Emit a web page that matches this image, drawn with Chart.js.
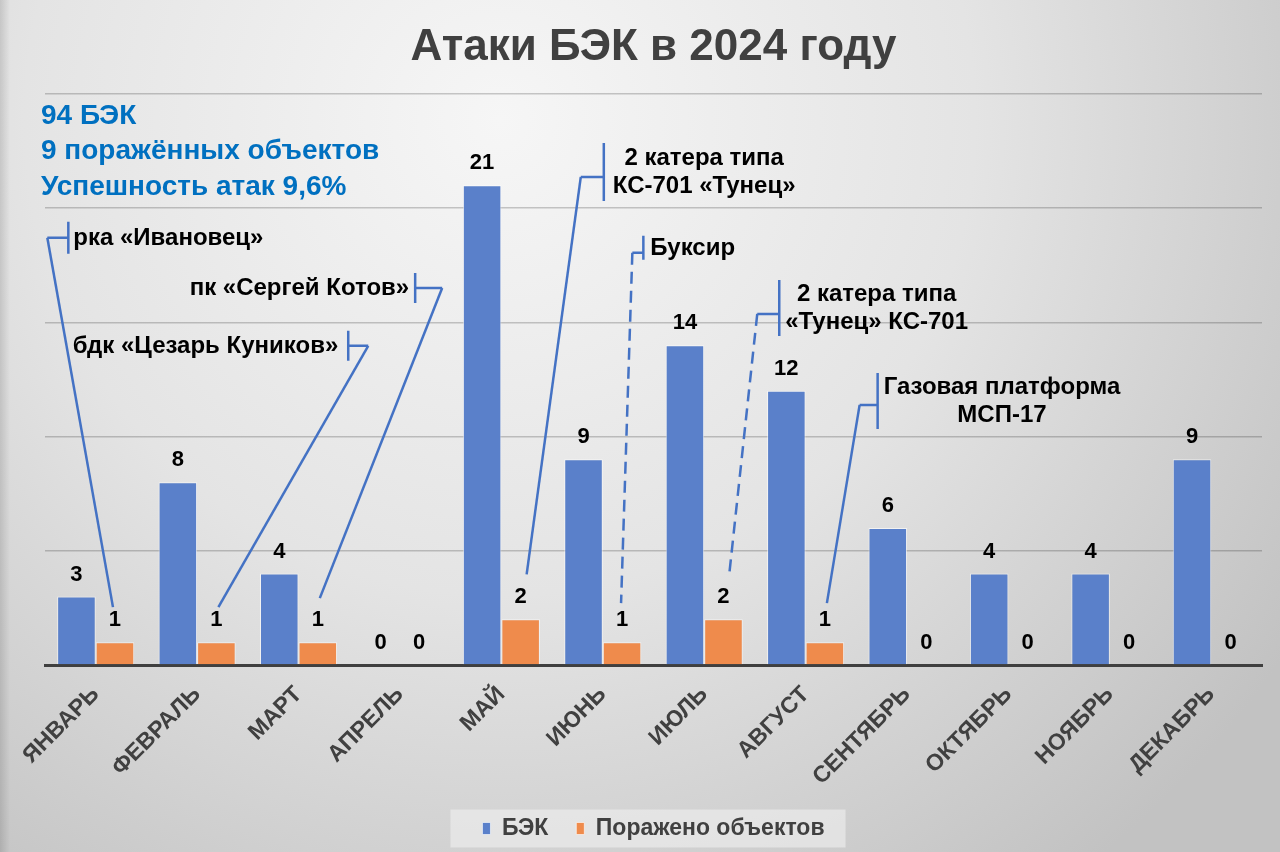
<!DOCTYPE html>
<html lang="ru">
<head>
<meta charset="utf-8">
<title>Атаки БЭК в 2024 году</title>
<script src="https://cdn.jsdelivr.net/npm/chart.js@4.4.0/dist/chart.umd.min.js"></script>
<style>
  html, body { margin: 0; padding: 0; background: #e6e6e6; }
  #wrap { width: 1280px; height: 852px; position: relative; }
</style>
</head>
<body>
<div id="wrap"><canvas id="chart" width="1280" height="852"></canvas></div>
<script>
// --- data ---
const months = ["ЯНВАРЬ", "ФЕВРАЛЬ", "МАРТ", "АПРЕЛЬ", "МАЙ", "ИЮНЬ",
  "ИЮЛЬ", "АВГУСТ", "СЕНТЯБРЬ", "ОКТЯБРЬ", "НОЯБРЬ", "ДЕКАБРЬ"];
const bekAttacks = [3, 8, 4, 0, 21, 9, 14, 12, 6, 4, 4, 9];
const targetsHit = [1, 1, 1, 0, 2, 1, 2, 1, 0, 0, 0, 0];
const seriesNames = ["БЭК", "Поражено объектов"];
const yMax = 25;
const yStep = 5;

// which month each note belongs to, and its text
const noteMonths = [0, 2, 1, 4, 5, 6, 7];
const noteTexts = [
  ["рка «Ивановец»"],
  ["пк «Сергей Котов»"],
  ["бдк «Цезарь Куников»"],
  ["2 катера типа", "КС-701 «Тунец»"],
  ["Буксир"],
  ["2 катера типа", "«Тунец» КС-701"],
  ["Газовая платформа", "МСП-17"],
];

// --- styling ---
const FONT = "'Liberation Sans', Arial, sans-serif";
const BLUE = "#5A80CA";
const ORANGE = "#EF8B4C";
const LEADER = "#4472C4";

// where each note sits: at = [category position, value] of the bracket centre
const noteLayout = [
  { at: [-0.27, 18.7], half: 16, tick: -21, tickDy: 0, side: "after", gap: 5, lift: 35, dx: -2 },
  { at: [3.15, 16.5], half: 15, tick: 27, tickDy: 0, side: "before", gap: 6, lift: 44, dx: 2 },
  { at: [2.49, 13.97], half: 15, tick: 20, tickDy: 0, side: "before", gap: 10, lift: 35, dx: 2 },
  { at: [5.01, 21.58], half: 29, tick: -23, tickDy: 5, side: "after", gap: 9, lift: 45, dx: 6 },
  { at: [5.40, 18.26], half: 12, tick: -11, tickDy: 5, side: "after", gap: 7, lift: 39, dx: -1, dash: [12, 7] },
  { at: [6.74, 15.63], half: 28, tick: -22, tickDy: 6, side: "after", gap: 6, lift: 47, dx: 6, dash: [12, 7] },
  { at: [7.71, 11.56], half: 28, tick: -18, tickDy: 4, side: "after", gap: 6, lift: 39, dx: 2 },
];

const sum = (a) => a.reduce((s, v) => s + v, 0);
const totalBek = sum(bekAttacks);
const totalHit = sum(targetsHit);
const summaryLines = [
  totalBek + " БЭК",
  totalHit + " поражённых объектов",
  "Успешность атак " + (totalHit / totalBek * 100).toFixed(1).replace(".", ",") + "%",
];

const backgroundPlugin = {
  id: "background",
  beforeDraw(chart) {
    const { ctx, width, height } = chart;
    ctx.save();
    const g = ctx.createRadialGradient(500, 120, 0, 500, 120, 950);
    g.addColorStop(0, "#f6f6f6");
    g.addColorStop(0.5, "#e4e4e4");
    g.addColorStop(1, "#c2c2c2");
    ctx.fillStyle = g;
    ctx.fillRect(0, 0, width, height);
    const edge = ctx.createLinearGradient(0, 0, 10, 0);
    edge.addColorStop(0, "rgba(0,0,0,0.12)");
    edge.addColorStop(1, "rgba(0,0,0,0)");
    ctx.fillStyle = edge;
    ctx.fillRect(0, 0, 10, height);

    // light box behind the legend
    const boxes = chart.legend && chart.legend.legendHitBoxes;
    if (boxes && boxes.length) {
      const first = boxes[0];
      const last = boxes[boxes.length - 1];
      const left = first.left - 32;
      const right = last.left + last.width + 21;
      const cy = first.top + first.height / 2;
      ctx.fillStyle = "rgba(240,240,240,0.6)";
      ctx.fillRect(left, cy - 19, right - left, 38);
    }
    ctx.restore();
  },
};

const valueLabelsPlugin = {
  id: "valueLabels",
  afterDatasetsDraw(chart) {
    const { ctx } = chart;
    ctx.save();
    ctx.font = "bold 22px " + FONT;
    ctx.fillStyle = "#000";
    ctx.textAlign = "center";
    ctx.textBaseline = "middle";
    chart.data.datasets.forEach((ds, di) => {
      chart.getDatasetMeta(di).data.forEach((bar, i) => {
        ctx.fillText(String(ds.data[i]), bar.x, bar.y - 22);
      });
    });
    ctx.restore();
  },
};

const notesPlugin = {
  id: "notes",
  afterDraw(chart) {
    const { ctx, chartArea } = chart;
    const xs = chart.scales.x;
    const ys = chart.scales.y;
    const hitMeta = chart.getDatasetMeta(1);
    ctx.save();

    // summary block top left
    ctx.font = "bold 28px " + FONT;
    ctx.fillStyle = "#0070C0";
    ctx.textAlign = "left";
    ctx.textBaseline = "middle";
    summaryLines.forEach((t, i) => {
      ctx.fillText(t, chartArea.left - 4, chartArea.top + 22 + i * 35.5);
    });

    ctx.font = "bold 24px " + FONT;
    ctx.lineWidth = 2.5;
    ctx.strokeStyle = LEADER;
    noteTexts.forEach((lines, n) => {
      const L = noteLayout[n];
      const bar = hitMeta.data[noteMonths[n]];
      const vx = xs.getPixelForValue(L.at[0]);
      const cy = ys.getPixelForValue(L.at[1]);
      const ty = cy + L.tickDy;

      // bracket
      ctx.setLineDash([]);
      ctx.beginPath();
      ctx.moveTo(vx, cy - L.half);
      ctx.lineTo(vx, cy + L.half);
      ctx.moveTo(vx, ty);
      ctx.lineTo(vx + L.tick, ty);
      ctx.stroke();

      // leader down to the bar
      ctx.setLineDash(L.dash || []);
      ctx.beginPath();
      ctx.moveTo(vx + L.tick, ty);
      ctx.lineTo(bar.x + L.dx, bar.y - L.lift);
      ctx.stroke();

      // text
      ctx.fillStyle = "#000";
      const widths = lines.map((t) => ctx.measureText(t).width);
      const maxW = Math.max(...widths);
      lines.forEach((t, i) => {
        const ly = cy + (i - (lines.length - 1) / 2) * 28.5 + 0.5;
        if (lines.length > 1) {
          ctx.textAlign = "center";
          ctx.fillText(t, vx + L.gap + maxW / 2, ly);
        } else if (L.side === "after") {
          ctx.textAlign = "left";
          ctx.fillText(t, vx + L.gap, ly);
        } else {
          ctx.textAlign = "right";
          ctx.fillText(t, vx - L.gap, ly);
        }
      });
    });
    ctx.restore();
  },
};

new Chart(document.getElementById("chart"), {
  type: "bar",
  data: {
    labels: months,
    datasets: [
      { label: seriesNames[0], data: bekAttacks, backgroundColor: BLUE },
      { label: seriesNames[1], data: targetsHit, backgroundColor: ORANGE },
    ],
  },
  options: {
    responsive: false,
    animation: false,
    devicePixelRatio: 1,
    layout: { padding: { left: 45, right: 18, top: 0, bottom: 2 } },
    datasets: {
      bar: {
        categoryPercentage: 0.76,
        barPercentage: 1,
        borderWidth: 1,
        borderColor: "rgba(255,255,255,0.6)",
      },
    },
    scales: {
      x: {
        grid: { display: false, drawTicks: false },
        border: { display: true, color: "#3f3f3f", width: 3 },
        ticks: {
          autoSkip: false,
          minRotation: 45,
          maxRotation: 45,
          padding: 16,
          color: "#404040",
          font: { family: FONT, size: 23, weight: "bold" },
        },
        afterFit(scale) { scale.height = 124; },
      },
      y: {
        min: 0,
        max: yMax,
        z: 1,
        ticks: { display: false, stepSize: yStep },
        border: { display: false },
        grid: { color: "rgba(0,0,0,0.2)", lineWidth: 1.5, drawTicks: false },
      },
    },
    plugins: {
      title: {
        display: true,
        text: "Атаки БЭК в 2024 году",
        color: "#404040",
        font: { family: FONT, size: 44, weight: "bold" },
        padding: { top: 21, bottom: 20 },
      },
      legend: {
        position: "bottom",
        labels: {
          boxWidth: 8,
          boxHeight: 12,
          padding: 28,
          color: "#404040",
          font: { family: FONT, size: 23, weight: "bold" },
        },
      },
      tooltip: { enabled: false },
    },
  },
  plugins: [backgroundPlugin, valueLabelsPlugin, notesPlugin],
});
</script>
</body>
</html>
